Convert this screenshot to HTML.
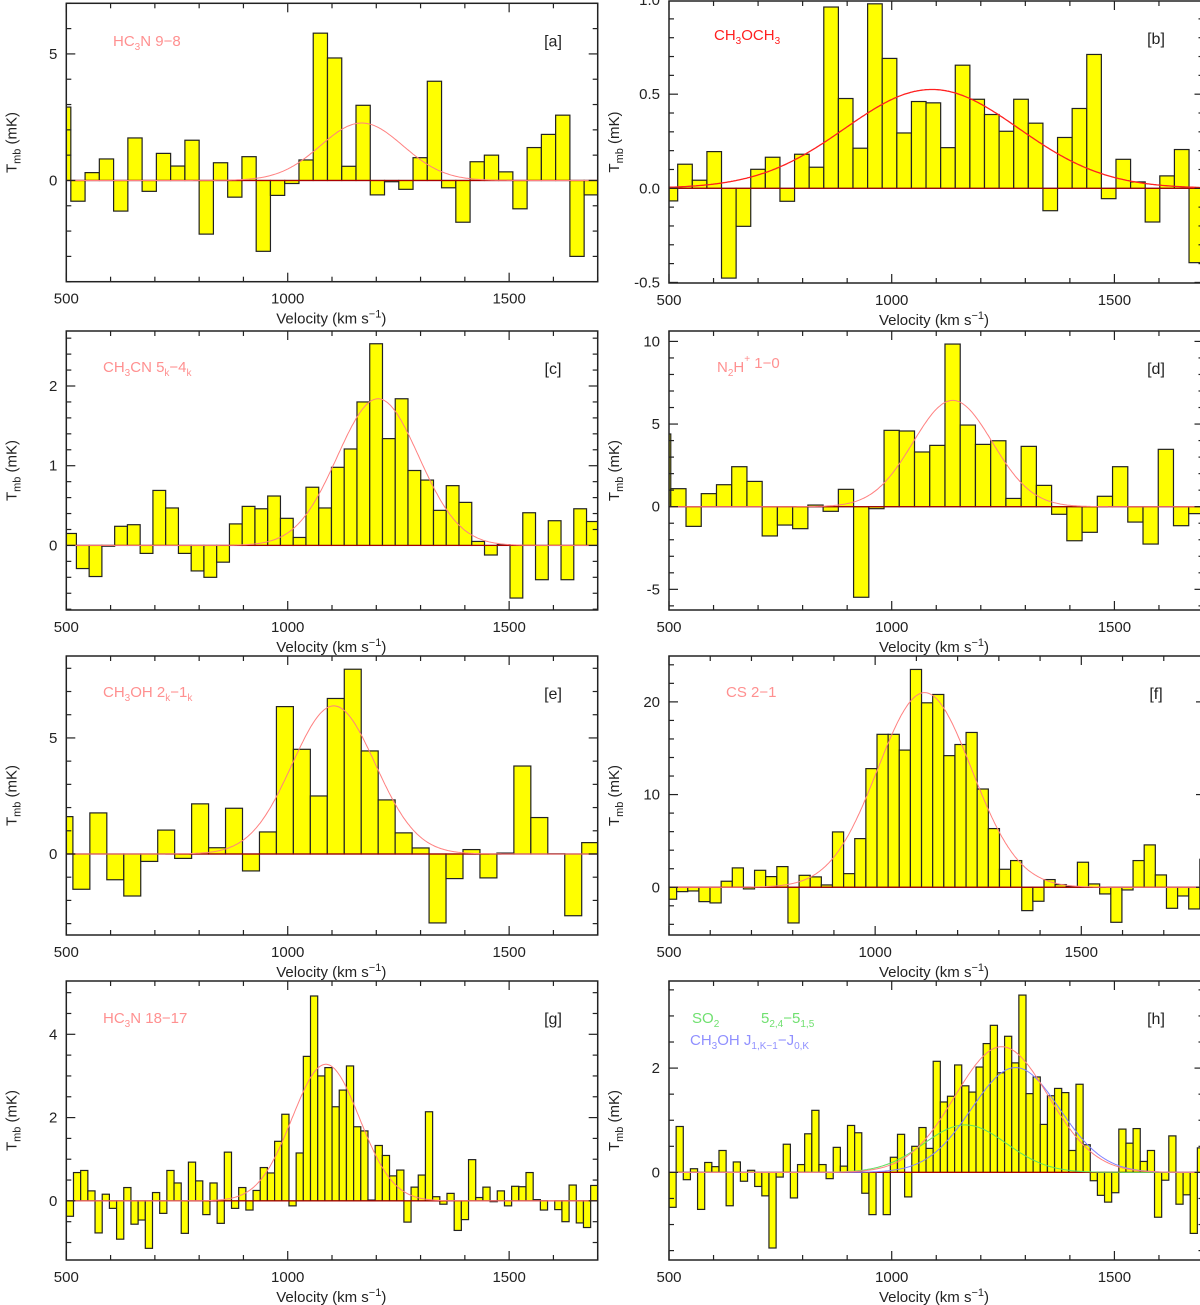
<!DOCTYPE html>
<html><head><meta charset="utf-8"><style>
html,body{margin:0;padding:0;background:#fff;}
svg{display:block;font-family:"Liberation Sans",sans-serif;}
</style></head><body>
<svg id="fig" width="1200" height="1305" viewBox="0 0 1200 1305" xmlns="http://www.w3.org/2000/svg"></svg>
<script>
// ---- data ----
const valsA=[2.9,-0.82,0.31,0.85,-1.21,1.68,-0.43,1.07,0.57,1.59,-2.12,0.70,-0.66,0.94,-2.8,-0.59,-0.12,0.81,5.82,4.84,0.56,2.97,-0.57,-0.05,-0.35,0.9,3.92,-0.29,-1.65,0.74,1.0,0.34,-1.12,1.3,1.82,2.58,-3.0,-0.57];
const binA=[478,32.2];
const fitA=[2.27,1167,93];
const valsB=[-0.067,0.128,0.043,0.195,-0.477,-0.202,0.101,0.165,-0.069,0.181,0.112,0.963,0.477,0.213,0.98,0.69,0.294,0.461,0.454,0.216,0.654,0.473,0.392,0.303,0.473,0.346,-0.119,0.27,0.424,0.711,-0.055,0.154,0.034,-0.179,0.066,0.206,-0.395];
const binB=[486.7,32.8];
const fitB=[0.525,1090,195];
const valsC=[0.15,-0.29,-0.39,-0.01,0.24,0.26,-0.10,0.69,0.47,-0.10,-0.32,-0.40,-0.21,0.27,0.49,0.46,0.62,0.34,0.10,0.73,0.47,0.98,1.21,1.80,2.53,1.34,1.84,0.94,0.82,0.44,0.75,0.54,0.05,-0.12,0.01,-0.66,0.41,-0.43,0.31,-0.43,0.46,0.30];
const binC=[494,28.8];
const fitC=[1.84,1204,92];
const valsD=[4.40,1.09,-1.19,0.79,1.33,2.42,1.53,-1.77,-1.11,-1.33,0.10,-0.28,1.05,-5.48,-0.12,4.62,4.58,3.31,3.71,9.84,4.94,3.77,3.99,0.50,3.65,1.29,-0.46,-2.06,-1.55,0.63,2.42,-0.93,-2.26,3.47,-1.15,-0.42];
const binD=[469.8,34.2];
const fitD=[6.43,1137,89];
const valsE=[1.61,-1.52,1.77,-1.11,-1.81,-0.32,1.03,-0.19,2.16,0.27,1.97,-0.73,0.95,6.35,4.51,2.50,6.70,7.96,4.44,2.33,0.91,0.26,-2.97,-1.06,0.19,-1.03,0.04,3.79,1.57,0.01,-2.66,0.49];
const binE=[476.6,38.3];
const fitE=[6.38,1104,94];
const valsF=[-1.29,-0.47,-0.40,-1.55,-1.69,0.65,2.09,-0.18,1.83,1.15,2.23,-3.85,1.29,1.12,0.25,5.97,1.47,5.25,12.8,16.5,16.5,14.8,23.5,19.9,20.8,14.2,15.4,16.7,10.6,6.33,1.94,2.88,-2.52,-1.51,0.83,0.29,0.07,2.70,0.36,-0.72,-3.78,-0.29,2.88,4.57,1.33,-2.27,-0.94,-2.34,3.02];
const binF=[491.5,27];
const fitF=[21.0,1120,114];
const valsG=[-0.37,0.68,0.73,0.24,-0.77,0.16,-0.18,-0.92,0.32,-0.56,-0.46,-1.14,0.20,-0.30,0.73,0.43,-0.78,0.93,0.48,-0.33,0.43,-0.54,1.17,-0.18,0.32,-0.22,0.25,0.80,0.67,1.43,2.08,-0.12,1.15,3.47,4.92,3.0,3.2,2.26,2.66,3.24,1.78,1.68,0.02,1.33,1.09,0.6,0.74,-0.51,0.33,0.62,2.14,0.10,-0.08,0.18,-0.71,-0.45,0.99,0.08,0.33,-0.02,0.24,-0.12,0.35,0.34,0.68,0.03,-0.22,0,-0.21,-0.50,0.38,-0.53,-0.64,0.37];
const binG=[500,16.22];
const fitG=[3.28,1086,76];
const valsH=[-0.67,0.88,-0.14,0.07,-0.71,0.19,0.11,0.42,-0.64,0.20,-0.17,0.04,-0.27,-0.45,-1.45,-0.09,0.54,-0.49,0.15,0.74,1.19,0.15,-0.12,0.48,0.12,0.90,0.76,-0.40,-0.81,0.0,-0.81,0.29,0.73,-0.47,0.50,0.86,0.46,2.13,1.35,1.46,2.06,1.66,1.54,2.02,2.47,2.82,1.91,2.61,2.10,3.40,1.51,1.83,0.92,1.47,1.61,1.53,0.42,1.69,0.53,-0.16,-0.44,-0.57,-0.39,0.83,0.56,0.84,0.21,0.42,-0.86,-0.15,0.70,-0.61,-0.43,-1.17,0.47];
const binH=[500,16.03];
const fitHtotal=[2.41,1247,105];
const fitHso2=[0.91,1165,93];
const fitHch3oh=[2.01,1278,99];
const xTickLabels=[500,1000,1500];
const yTicksA=["0","5"],yTicksB=["-0.5","0.0","0.5","1.0"],yTicksC=["0","1","2"],yTicksD=["-5","0","5","10"];
const yTicksE=["0","5"],yTicksF=["0","10","20"],yTicksG=["0","2","4"],yTicksH=["0","2"];

// ---- layout ----
const NS="http://www.w3.org/2000/svg";
const svg=document.getElementById('fig');
function mk(tag,attrs,parent){const e=document.createElementNS(NS,tag);for(const k in attrs)e.setAttribute(k,attrs[k]);(parent||svg).appendChild(e);return e;}
const panels=[
 {id:'a',vals:valsA,bin:binA,fits:[[fitA,'#ff8080']],fx:66.3,fy:3.3,fw:531.4,fh:278.4,x0:500,x1:1700,y0:-4,y1:7,yMinor:1,yMajor:5,yT:yTicksA},
 {id:'b',vals:valsB,bin:binB,fits:[[fitB,'#ff2020']],fx:669,fy:1,fw:534.5,fh:282,x0:500,x1:1700,y0:-0.503,y1:0.995,yMinor:0.1,yMajor:0.5,yT:yTicksB},
 {id:'c',vals:valsC,bin:binC,fits:[[fitC,'#ff8080']],fx:66.3,fy:331,fw:531.4,fh:279,x0:500,x1:1700,y0:-0.81,y1:2.69,yMinor:0.2,yMajor:1,yT:yTicksC},
 {id:'d',vals:valsD,bin:binD,fits:[[fitD,'#ff8080']],fx:669,fy:331,fw:534.5,fh:279,x0:500,x1:1700,y0:-6.25,y1:10.63,yMinor:1,yMajor:5,yT:yTicksD},
 {id:'e',vals:valsE,bin:binE,fits:[[fitE,'#ff8080']],fx:66.3,fy:656,fw:531.4,fh:279,x0:500,x1:1700,y0:-3.49,y1:8.53,yMinor:1,yMajor:5,yT:yTicksE},
 {id:'f',vals:valsF,bin:binF,fits:[[fitF,'#ff8080']],fx:669,fy:656,fw:536,fh:279,x0:500,x1:1800,y0:-5.15,y1:24.95,yMinor:2,yMajor:10,yT:yTicksF},
 {id:'g',vals:valsG,bin:binG,fits:[[fitG,'#ff8080']],fx:66.3,fy:981,fw:531.4,fh:279,x0:500,x1:1700,y0:-1.42,y1:5.28,yMinor:0.5,yMajor:2,yT:yTicksG},
 {id:'h',vals:valsH,bin:binH,fits:[[fitHso2,'#60e060'],[fitHch3oh,'#8080ff'],[fitHtotal,'#ff8080']],fx:669,fy:981,fw:534.5,fh:279,x0:500,x1:1700,y0:-1.68,y1:3.67,yMinor:0.5,yMajor:2,yT:yTicksH}
];
const defs=mk('defs',{});
panels.forEach(p=>{
  const X=v=>p.fx+(v-p.x0)/(p.x1-p.x0)*p.fw;
  const Y=t=>p.fy+(p.y1-t)/(p.y1-p.y0)*p.fh;
  const g=mk('g',{});
  
  
  const cp=mk('clipPath',{id:'clip'+p.id},defs);
  mk('rect',{x:p.fx,y:p.fy,width:Math.min(p.fw,1200-p.fx),height:p.fh},cp);
  const plot=mk('g',{'clip-path':'url(#clip'+p.id+')'},g);
  p.vals.forEach((v,i)=>{
    let a=p.bin[0]+i*p.bin[1], b=a+p.bin[1];
    if(b<=p.x0||a>=p.x1) return;
    a=Math.max(a,p.x0); b=Math.min(b,p.x1);
    const y0=Y(0), yv=Y(v);
    const r=mk('rect',{x:X(a),y:Math.min(y0,yv),width:X(b)-X(a),height:Math.abs(y0-yv),fill:'#ffff00',stroke:'#222','stroke-width':1.2},plot);
    
    
  });
  const zl=mk('line',{x1:p.fx,x2:p.fx+p.fw,y1:Y(0),y2:Y(0),stroke:'#a00','stroke-width':1.2},plot);
  
  
  p.fits.forEach((f,k)=>{
    const pts=[];
    for(let v=p.x0;v<=p.x1;v+=3){pts.push(X(v).toFixed(1)+','+Y(f[0][0]*Math.exp(-Math.pow(v-f[0][1],2)/(2*f[0][2]*f[0][2]))).toFixed(1));}
    const pl=mk('polyline',{points:pts.join(' '),fill:'none',stroke:f[1],'stroke-width':p.id==='b'?1.3:1},plot);
    
    
  });
  const fr=mk('rect',{x:p.fx,y:p.fy,width:p.fw,height:p.fh,fill:'none',stroke:'#222','stroke-width':1.5},g);
  
  
  for(let v=Math.ceil(p.x0/100)*100; v<=p.x1; v+=100){
    const L=(v%500===0)?9:5, x=X(v);
    mk('line',{x1:x,x2:x,y1:p.fy+p.fh,y2:p.fy+p.fh-L,stroke:'#222','stroke-width':1.2},g);
    mk('line',{x1:x,x2:x,y1:p.fy,y2:p.fy+L,stroke:'#222','stroke-width':1.2},g);
  }
  xTickLabels.forEach(v=>{
    const t=mk('text',{x:X(v),y:p.fy+p.fh+22,'text-anchor':'middle','font-size':15,fill:'#222'},g);
    t.textContent=v;
    
    
  });
  const n0=Math.ceil(p.y0/p.yMinor-1e-6), n1=Math.floor(p.y1/p.yMinor+1e-6);
  for(let n=n0;n<=n1;n++){
    const t=n*p.yMinor, y=Y(t);
    const maj=Math.abs(t/p.yMajor-Math.round(t/p.yMajor))<1e-6, L=maj?9:5;
    mk('line',{x1:p.fx,x2:p.fx+L,y1:y,y2:y,stroke:'#222','stroke-width':1.2},g);
    mk('line',{x1:p.fx+p.fw,x2:p.fx+p.fw-L,y1:y,y2:y,stroke:'#222','stroke-width':1.2},g);
  }
  p.yT.forEach(s=>{
    const t=mk('text',{x:p.fx-9,y:Y(parseFloat(s))+5,'text-anchor':'end','font-size':15,fill:'#222'},g);
    t.textContent=s;
    
    
  });
  const xt=mk('text',{x:p.fx+265,y:p.fy+p.fh+42,'text-anchor':'middle','font-size':15,fill:'#222'},g);
  xt.innerHTML='Velocity (km s<tspan dy="-6" font-size="11">−1</tspan><tspan dy="6">)</tspan>';
  
  
  const cx=p.fx-50, cy=p.fy+p.fh/2;
  const yt=mk('text',{x:cx,y:cy,'text-anchor':'middle','font-size':15,fill:'#222',transform:'rotate(-90 '+cx+' '+cy+')'},g);
  yt.innerHTML='T<tspan dy="4" font-size="11">mb</tspan><tspan dy="-4"> (mK)</tspan>';
  
  
  const right=(p.id==='b'||p.id==='d'||p.id==='f'||p.id==='h');
  const pl=mk('text',{x:right?1156:553,y:p.fy+43,'text-anchor':'middle','font-size':16,fill:'#222'},g);
  pl.textContent='['+p.id+']';
  
  
});
function lab(x,y,html,col,name){const t=mk('text',{x:x,y:y,'font-size':15,fill:col});t.innerHTML=html;}
const sb=(s)=>'<tspan dy="4" font-size="10">'+s+'</tspan><tspan dy="-4">';
lab(113,46,'HC'+sb('3')+'N  9−8</tspan>','#ff9090','species-label-a');
lab(714,40,'CH'+sb('3')+'OCH'+sb('3')+'</tspan></tspan>','#ff2020','species-label-b');
lab(103,372,'CH'+sb('3')+'CN  5'+sb('k')+'−4'+sb('k')+'</tspan></tspan></tspan>','#ff9090','species-label-c');
lab(717,372,'N'+sb('2')+'H<tspan dy="-10" font-size="10">+</tspan><tspan dy="6">  1−0</tspan></tspan>','#ff9090','species-label-d');
lab(103,697,'CH'+sb('3')+'OH  2'+sb('k')+'−1'+sb('k')+'</tspan></tspan></tspan>','#ff9090','species-label-e');
lab(726,697,'CS  2−1','#ff9090','species-label-f');
lab(103,1023,'HC'+sb('3')+'N  18−17</tspan>','#ff9090','species-label-g');
lab(692,1023,'SO'+sb('2')+'</tspan>','#70e070','species-label-so2');
lab(761,1023,'5'+sb('2,4')+'−5'+sb('1,5')+'</tspan></tspan>','#70e070','transition-label-so2');
lab(690,1045,'CH'+sb('3')+'OH  J'+sb('1,K−1')+'−J'+sb('0,K')+'</tspan></tspan></tspan>','#9090ff','species-label-ch3oh');
</script>
</body></html>
